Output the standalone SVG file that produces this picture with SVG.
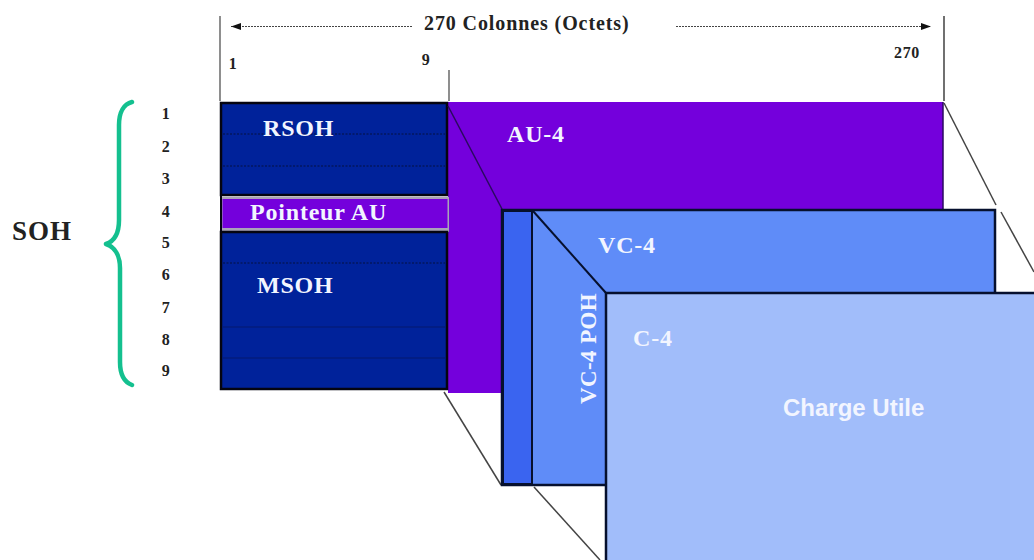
<svg xmlns="http://www.w3.org/2000/svg" width="1034" height="560" viewBox="0 0 1034 560">
<defs>
<marker id="arr" markerWidth="11" markerHeight="8" refX="10" refY="4" orient="auto-start-reverse" markerUnits="userSpaceOnUse"><path d="M0 0.5L10 4L0 7.5Z" fill="#111"/></marker>
</defs>
<style>
text{font-family:"Liberation Serif","Times New Roman",serif;font-weight:bold}
.k{fill:#222}
.w{fill:#f2f5ff}
.n{font-size:16px;text-anchor:middle;fill:#222;letter-spacing:.6px}
.l{font-size:24px;letter-spacing:.8px}
.bl{fill:#00229a;stroke:#050510;stroke-width:2.5}
.dash{stroke:#041040;stroke-width:1;stroke-dasharray:2 1.5;fill:none}
.sol{stroke:#04186f;stroke-width:1;fill:none}
.edge{stroke:#444;stroke-width:1.5;fill:none}
.dk{stroke:#06102e;stroke-width:2;fill:none}
</style>
<rect width="1034" height="560" fill="#fff"/>
<g id="connectors">
<line class="edge" x1="220" y1="16" x2="220" y2="101" style="stroke-width:1.2"/>
<line class="edge" x1="449" y1="70" x2="449" y2="101" style="stroke-width:1.2"/>
<line class="edge" x1="944" y1="16" x2="944" y2="101" style="stroke:#111;stroke-width:1.2"/>
<line x1="412" y1="26.500" x2="231" y2="26.500" stroke="#444" stroke-width="1.200" stroke-dasharray="2 1" marker-end="url(#arr)"/>
<line x1="676" y1="26.500" x2="931" y2="26.500" stroke="#444" stroke-width="1.200" stroke-dasharray="2 1" marker-end="url(#arr)"/>
<line class="edge" x1="944" y1="103" x2="996" y2="205"/>
<line class="edge" x1="1001" y1="212" x2="1034" y2="272"/>
<line class="edge" x1="444" y1="392" x2="501" y2="485"/>
<line class="edge" x1="534" y1="487" x2="600" y2="560"/>
</g>
<g id="au4"><rect x="448" y="102" width="495" height="291" fill="#7400dc"/><line x1="943" y1="102" x2="943" y2="209" stroke="#2a0a60" stroke-width="1.500"/><text class="w l" x="507" y="142">AU-4</text></g>
<g id="rsoh"><rect class="bl" x="221" y="103" width="226" height="92"/><line class="dash" x1="223" y1="134" x2="445" y2="134"/><line class="dash" x1="223" y1="166" x2="445" y2="166"/><text class="w l" x="263" y="136">RSOH</text></g>
<g id="pointeur"><rect x="220" y="197" width="229" height="35" fill="#a9a3b8"/><rect x="222.500" y="199" width="225" height="29" fill="#7400dc"/><line x1="221" y1="196" x2="221" y2="232" stroke="#050510" stroke-width="2"/><text class="w l" x="250" y="220">Pointeur AU</text></g>
<g id="msoh"><rect class="bl" x="221" y="232" width="226" height="157"/><line class="dash" x1="223" y1="263" x2="445" y2="263"/><line class="sol" x1="223" y1="327" x2="445" y2="327"/><line class="sol" x1="223" y1="358" x2="445" y2="358"/><text class="w l" x="257" y="293">MSOH</text></g>
<line class="dk" x1="448" y1="106" x2="502" y2="209" style="stroke:#2a0a60;stroke-width:1.500"/>
<g id="vc4"><rect x="502" y="210" width="493" height="275" fill="#5f8cf8" stroke="#06102e" stroke-width="2.500"/><rect x="503" y="211" width="29" height="273" fill="#3a64f0" stroke="#06102e" stroke-width="2"/><line class="dk" x1="533" y1="211" x2="606" y2="293"/><text class="w l" x="598" y="253">VC-4</text><text class="w" font-size="23" letter-spacing=".4" transform="translate(596 404) rotate(-90)">VC-4 POH</text></g>
<g id="c4"><rect x="606" y="293" width="440" height="280" fill="#a1bdfa" stroke="#06102e" stroke-width="2.500"/><text class="w l" x="633" y="346">C-4</text><text x="783" y="416" font-size="24" style="font-family:'Liberation Sans',Arial,sans-serif" fill="#f2f5ff">Charge Utile</text></g>
<g id="labels">
<text x="424" y="30" font-size="20" letter-spacing=".9" class="k">270 Colonnes (Octets)</text>
<text class="n" x="233" y="69">1</text><text class="n" x="426" y="65">9</text><text class="n" x="907" y="58">270</text>
<text class="n" x="166" y="119">1</text><text class="n" x="166" y="152">2</text><text class="n" x="166" y="184">3</text><text class="n" x="166" y="217">4</text><text class="n" x="166" y="248">5</text><text class="n" x="166" y="280">6</text><text class="n" x="166" y="313">7</text><text class="n" x="166" y="345">8</text><text class="n" x="166" y="376">9</text>
<text x="12" y="240" font-size="27" letter-spacing="1" class="k">SOH</text>
</g>
<g id="brace"><path d="M132 102C124 104 119 112 119 125L119 220C119 232 115 241 106 244C115 247 120 256 120 268L120 362C120 374 124 382 132 385" fill="none" stroke="#14c08f" stroke-width="4.500" stroke-linecap="round" stroke-linejoin="round"/></g>
</svg>
